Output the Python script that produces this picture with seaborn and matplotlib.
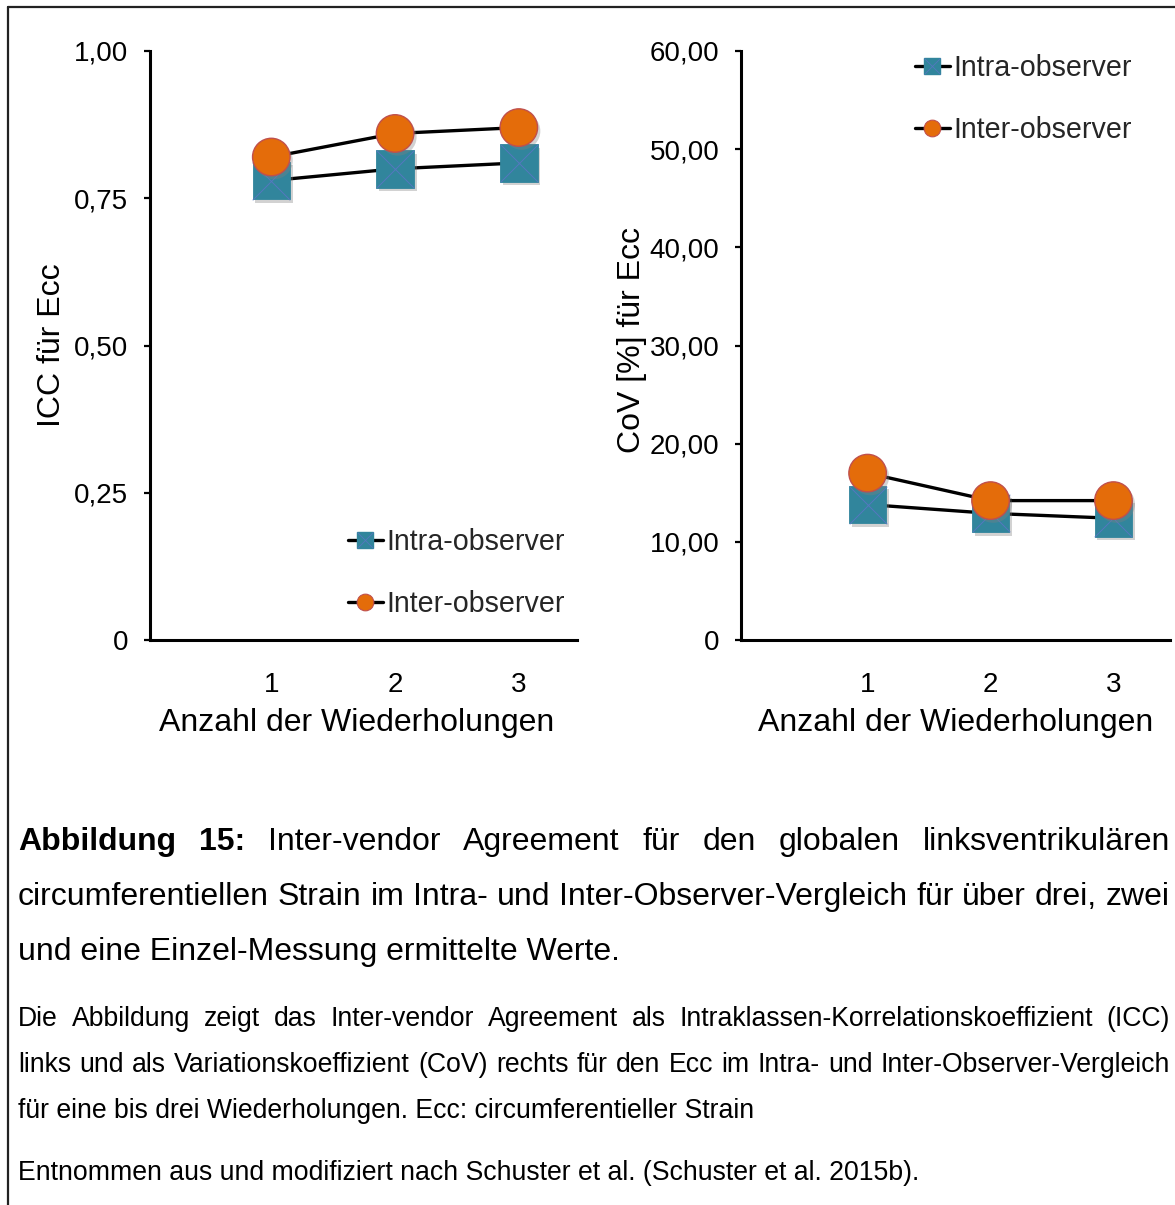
import numpy as np
import pandas as pd
import matplotlib
matplotlib.use("Agg")
import matplotlib.pyplot as plt
import seaborn as sns
from matplotlib.lines import Line2D
from matplotlib.legend_handler import HandlerTuple
import matplotlib.patheffects as pe

# ---------------- data ----------------
reps = [1, 2, 3]
rep_labels = ["1", "2", "3"]
series_names = ["Intra-observer", "Inter-observer"]
icc_intra = [0.78, 0.80, 0.81]
icc_inter = [0.82, 0.86, 0.87]
cov_intra = [13.8, 12.9, 12.4]
cov_inter = [17.0, 14.2, 14.2]
icc_ticks = [0, 0.25, 0.50, 0.75, 1.00]
icc_ticklabels = ["0", "0,25", "0,50", "0,75", "1,00"]
cov_ticks = [0, 10, 20, 30, 40, 50, 60]
cov_ticklabels = ["0", "10,00", "20,00", "30,00", "40,00", "50,00", "60,00"]
xlabel_text = "Anzahl der Wiederholungen"
ylabel_left = "ICC für Ecc"
ylabel_right = "CoV [%] für Ecc"

caption_lines = [
    ("Abbildung 15: Inter-vendor Agreement für den globalen linksventrikulären", True, 2),
    ("circumferentiellen Strain im Intra- und Inter-Observer-Vergleich für über drei, zwei", True, 0),
    ("und eine Einzel-Messung ermittelte Werte.", False, 0),
]
note_lines = [
    ("Die Abbildung zeigt das Inter-vendor Agreement als Intraklassen-Korrelationskoeffizient (ICC)", True),
    ("links und als Variationskoeffizient (CoV) rechts für den Ecc im Intra- und Inter-Observer-Vergleich", True),
    ("für eine bis drei Wiederholungen. Ecc: circumferentieller Strain", False),
]
source_line = "Entnommen aus und modifiziert nach Schuster et al. (Schuster et al. 2015b)."

TEAL = "#31859C"
XCOL = "#5577C0"
ORANGE = "#E46C0A"
ORANGE_EDGE = "#C0504D"

# ---------------- figure ----------------
sns.set_theme(style="white")
plt.rcParams["font.family"] = ["Liberation Sans", "DejaVu Sans"]

W, H = 1175, 1205
fig = plt.figure(figsize=(W / 100, H / 100), dpi=100)


def rect(x0, y0, x1, y1):
    return [x0 / W, 1 - y1 / H, (x1 - x0) / W, (y1 - y0) / H]


axL = fig.add_axes(rect(150, 51, 577, 640))
axR = fig.add_axes(rect(741, 51, 1170, 640))

shadow = [pe.SimplePatchShadow(offset=(2, -2.5), shadow_rgbFace="gray", alpha=0.35), pe.Normal()]
MS = 27


def draw(ax, intra, inter):
    df_a = pd.DataFrame({"rep": reps, "val": intra})
    df_b = pd.DataFrame({"rep": reps, "val": inter})
    sns.lineplot(data=df_a, x="rep", y="val", color="black", linewidth=2.4, ax=ax, zorder=2)
    sns.scatterplot(data=df_a, x="rep", y="val", marker="s", s=MS ** 2, color=TEAL,
                    edgecolor=TEAL, linewidth=0.6, ax=ax, zorder=3, path_effects=shadow)
    ax.scatter(df_a["rep"], df_a["val"], marker="x", s=MS ** 2, color=XCOL, linewidths=0.7, zorder=3.5)
    sns.lineplot(data=df_b, x="rep", y="val", color="black", linewidth=2.4, ax=ax, zorder=3.7)
    sns.scatterplot(data=df_b, x="rep", y="val", marker="o", s=MS ** 2, color=ORANGE,
                    edgecolor=ORANGE_EDGE, linewidth=1.0, ax=ax, zorder=4, path_effects=shadow)


draw(axL, icc_intra, icc_inter)
draw(axR, cov_intra, cov_inter)

for ax, ticks, labels in ((axL, icc_ticks, icc_ticklabels), (axR, cov_ticks, cov_ticklabels)):
    ax.set_ylim(ticks[0], ticks[-1])
    ax.set_yticks(ticks)
    ax.set_yticklabels(labels)
    ax.set_xticks(reps)
    ax.set_xticklabels(rep_labels)
    ax.tick_params(axis="x", length=0, pad=23, labelsize=20, colors="black")
    ax.tick_params(axis="y", left=True, length=4.5, width=1.6, pad=11, labelsize=20,
                   colors="black", direction="out")
    for s in ("top", "right"):
        ax.spines[s].set_visible(False)
    for s in ("left", "bottom"):
        ax.spines[s].set_color("black")
        ax.spines[s].set_linewidth(2.2)
    ax.set_facecolor("none")
    ax.set_xlabel(xlabel_text, fontsize=23, color="black", va="top")

axL.set_xlim(0.02, 3.47)
axR.set_xlim(-0.03, 3.46)

axL.set_ylabel(ylabel_left, fontsize=23, color="black")
axR.set_ylabel(ylabel_right, fontsize=23, color="black")
axL.yaxis.set_label_coords((67 - 150) / 427, 0.50)
axR.yaxis.set_label_coords((647 - 741) / 429, 0.51)
axL.xaxis.set_label_coords((357 - 150) / 427, (640 - 708) / 589)
axR.xaxis.set_label_coords((956 - 741) / 429, (640 - 708) / 589)

# legends
def make_handles():
    sq = Line2D([0], [0], color="black", lw=2.4, marker="s", ms=12, mfc=TEAL, mec=TEAL)
    xx = Line2D([0], [0], ls="", marker="x", ms=12, mec=XCOL, mew=0.6)
    ci = Line2D([0], [0], color="black", lw=2.4, marker="o", ms=12, mfc=ORANGE, mec=ORANGE_EDGE, mew=0.8)
    return [(sq, xx), ci]


for ax, (lx, ly) in ((axL, (348, 573)), (axR, (915, 99))):
    ax.legend(make_handles(), series_names, loc="center left",
              bbox_to_anchor=(lx / W, 1 - ly / H), bbox_transform=fig.transFigure,
              frameon=False, fontsize=20.6, handlelength=1.22, handletextpad=0.12,
              labelspacing=1.2, borderpad=0, borderaxespad=0,
              handler_map={tuple: HandlerTuple(ndivide=1)})

# frame lines
fig.add_artist(Line2D([8 / W, 8 / W], [0, 1 - 7 / H], color="#222222", lw=1.6,
                      transform=fig.transFigure))
fig.add_artist(Line2D([8 / W, 1], [1 - 7 / H, 1 - 7 / H], color="#222222", lw=1.6,
                      transform=fig.transFigure))

# caption text
renderer = fig.canvas.get_renderer()
X0, X1 = 18, 1170


def text_line(line, y_px, fs, justify, bold_n=0):
    words = line.split(" ")
    if not justify and bold_n == 0:
        fig.text(X0 / W, 1 - y_px / H, line, fontsize=fs, va="baseline", ha="left", color="black")
        return
    ts = []
    for i, w in enumerate(words):
        ts.append(fig.text(0, 1 - y_px / H, w, fontsize=fs, va="baseline", ha="left", color="black",
                           fontweight="bold" if i < bold_n else "normal"))
    ws = [t.get_window_extent(renderer).width for t in ts]
    gap = (X1 - X0 - sum(ws)) / (len(ws) - 1) if justify else 0.278 * fs * 100 / 72
    x = X0
    for t, w in zip(ts, ws):
        t.set_x(x / W)
        x += w + gap


for (line, just, bn), y in zip(caption_lines, (850, 905, 960)):
    text_line(line, y, 23, just, bn)
for (line, just), y in zip(note_lines, (1026, 1072, 1118)):
    text_line(line, y, 19.2, just)
text_line(source_line, 1180, 19.2, False)

fig.savefig("out.png", dpi=100, facecolor="white")
